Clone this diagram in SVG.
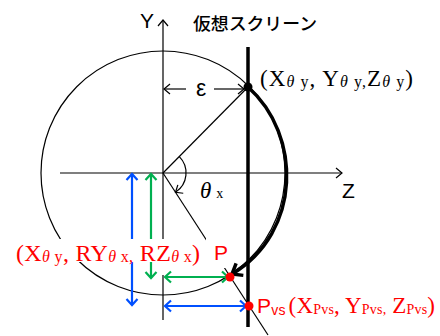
<svg xmlns="http://www.w3.org/2000/svg" width="440" height="336" viewBox="0 0 440 336">
<style>
.thin{fill:none;stroke:#000;stroke-width:1.2}
.sans{font-family:"Liberation Sans","Noto Sans CJK JP",sans-serif}
.serif{font-family:"Liberation Serif","Noto Serif",serif}
.red{fill:#ff0000}
.th{font-style:italic}
.blue{fill:none;stroke:#0050ff;stroke-width:2.2}
.green{fill:none;stroke:#00b050;stroke-width:2.2}
</style>
<defs>
<marker id="ak" markerUnits="userSpaceOnUse" viewBox="-9 -7 11 14" refX="0" refY="0" markerWidth="11" markerHeight="14" orient="auto-start-reverse" overflow="visible">
<path d="M-6,-5 L0,0 L-6,5" fill="none" stroke="#000" stroke-width="1.2"/>
</marker>
<marker id="ab" markerUnits="userSpaceOnUse" viewBox="-9 -7 11 14" refX="0" refY="0" markerWidth="11" markerHeight="14" orient="auto-start-reverse" overflow="visible">
<path d="M-6,-5.5 L0,0 L-6,5.5" fill="none" stroke="#0050ff" stroke-width="2.2"/>
</marker>
<marker id="ag" markerUnits="userSpaceOnUse" viewBox="-9 -7 11 14" refX="0" refY="0" markerWidth="11" markerHeight="14" orient="auto-start-reverse" overflow="visible">
<path d="M-6,-5.5 L0,0 L-6,5.5" fill="none" stroke="#00b050" stroke-width="2.2"/>
</marker>
<marker id="abig" markerUnits="userSpaceOnUse" viewBox="-12 -9 14 18" refX="0" refY="0" markerWidth="14" markerHeight="18" orient="auto" overflow="visible">
<path d="M-9,-7 L0,0 L-9,7" fill="none" stroke="#000" stroke-width="3.5"/>
</marker>
</defs>

<g id="circle">
<circle cx="163" cy="173" r="122" class="thin"/>
</g>

<g id="connectors">
<line x1="60" y1="173" x2="342" y2="173" class="thin" marker-end="url(#ak)"/>
<path d="M163 320 V275 M163 240 V20" class="thin" marker-end="url(#ak)"/>
<line x1="163" y1="173" x2="248" y2="87" class="thin"/>
<line x1="163" y1="173" x2="268" y2="335" class="thin"/>
<path d="M179.3 156.7 A23 23 0 0 1 175.5 192.3" class="thin" marker-end="url(#ak)"/>
<line x1="186" y1="89" x2="164" y2="89" class="thin" marker-end="url(#ak)"/>
<line x1="214" y1="89" x2="244" y2="89" class="thin" marker-end="url(#ak)"/>
<path d="M248 87 C302 135 302 232 232 274" fill="none" stroke="#000" stroke-width="3.5" marker-end="url(#abig)"/>
<line x1="132" y1="174" x2="132" y2="305" class="blue" marker-start="url(#ab)" marker-end="url(#ab)"/>
<line x1="165" y1="306" x2="246" y2="306" class="blue" marker-start="url(#ab)" marker-end="url(#ab)"/>
<line x1="151" y1="174" x2="151" y2="278" class="green" marker-start="url(#ag)" marker-end="url(#ag)"/>
<line x1="165" y1="277" x2="228" y2="277" class="green" marker-start="url(#ag)" marker-end="url(#ag)"/>
</g>

<g id="screen">
<line x1="248" y1="47" x2="248" y2="327" stroke="#000" stroke-width="3.5"/>
<text x="193" y="30" class="sans" font-size="17.5" font-weight="500" textLength="124" lengthAdjust="spacingAndGlyphs">仮想スクリーン</text>
</g>

<g id="axis-labels">
<text x="140" y="28" class="sans" font-size="21">Y</text>
<text x="342" y="198" class="sans" font-size="21">Z</text>
<text x="196" y="96" class="sans" font-size="23">ε</text>
<text x="200" y="198" class="serif" font-size="23" font-style="italic">θ<tspan font-size="14" font-style="normal" dx="5">x</tspan></text>
</g>

<g id="point-top">
<circle cx="248" cy="87" r="4.5" fill="#000"/>
<text x="260" y="86" class="serif" font-size="23" textLength="153" lengthAdjust="spacing">(X<tspan font-size="16" dy="1" class="th">θ</tspan><tspan font-size="16"> y</tspan><tspan dy="-1">, Y</tspan><tspan font-size="16" dy="1" class="th">θ</tspan><tspan font-size="16"> y,</tspan><tspan dy="-1">Z</tspan><tspan font-size="16" dy="1" class="th">θ</tspan><tspan font-size="16"> y</tspan><tspan dy="-1">)</tspan></text>
</g>

<g id="label-rot">
<rect x="14" y="239" width="190" height="23" fill="#fff"/>
<text x="16" y="261" class="serif red" font-size="24" textLength="184" lengthAdjust="spacing">(X<tspan font-size="16" dy="1" class="th">θ</tspan><tspan font-size="16"> y</tspan><tspan dy="-1">, RY</tspan><tspan font-size="16" dy="1" class="th">θ</tspan><tspan font-size="16"> x,</tspan><tspan dy="-1"> RZ</tspan><tspan font-size="16" dy="1" class="th">θ</tspan><tspan font-size="16"> x</tspan><tspan dy="-1">)</tspan></text>
</g>

<g id="point-P">
<rect x="206" y="238" width="26" height="30" fill="#fff"/>
<text x="214" y="260" class="sans red" font-size="21">P</text>
<circle cx="230" cy="277" r="4.5" fill="#ff0000"/>
</g>

<g id="point-Pvs">
<circle cx="249" cy="306" r="4.5" fill="#ff0000"/>
<text x="257" y="313" class="red" textLength="178" lengthAdjust="spacing"><tspan class="sans" font-size="21">P</tspan><tspan class="sans" font-size="14" dy="2">vs</tspan><tspan class="serif" font-size="23" dy="-2" dx="3">(X</tspan><tspan class="serif" font-size="14" dy="1">Pvs</tspan><tspan class="serif" font-size="23" dy="-1">, Y</tspan><tspan class="serif" font-size="14" dy="1">Pvs,</tspan><tspan class="serif" font-size="23" dy="-1"> Z</tspan><tspan class="serif" font-size="14" dy="1">Pvs</tspan><tspan class="serif" font-size="23" dy="-1">)</tspan></text>
</g>
</svg>
